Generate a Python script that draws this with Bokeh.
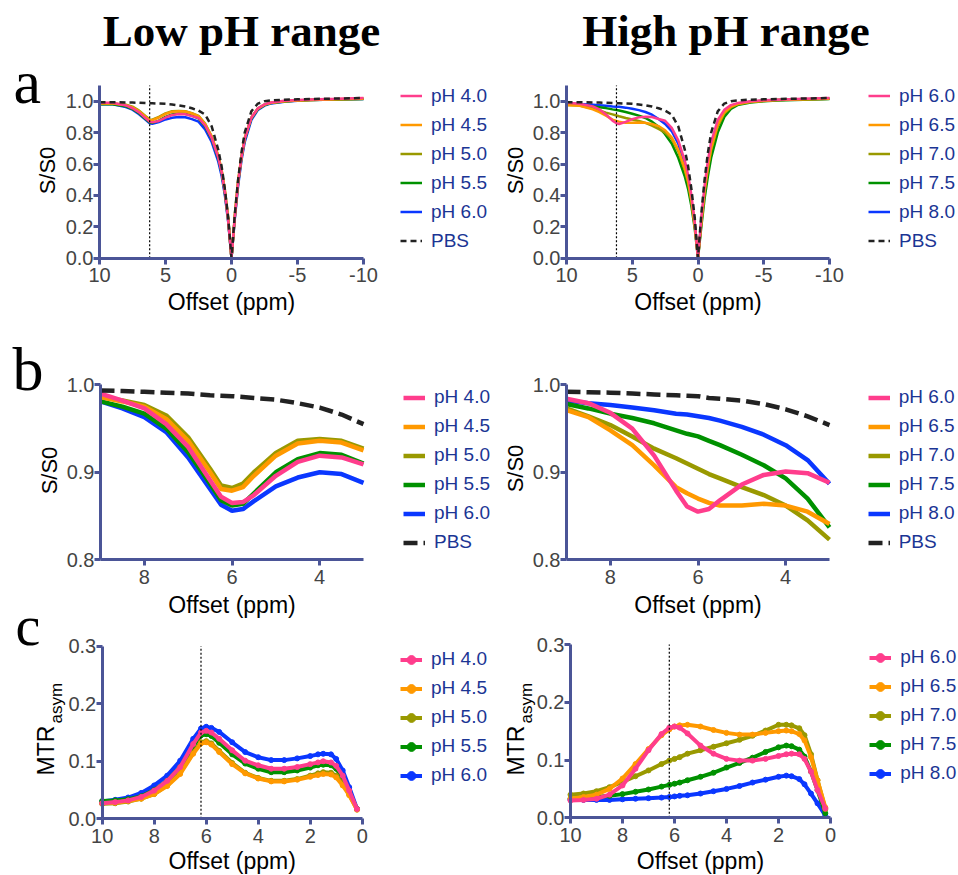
from math import pi
from bokeh.plotting import figure
from bokeh.models import (Range1d, FixedTicker, PrintfTickFormatter, Legend, LegendItem, Label)
from bokeh.layouts import column, row
from bokeh.embed import file_html
from bokeh.resources import INLINE

# ---------------- data ----------------
TITLES = ["Low pH range", "High pH range"]
PANEL_LETTERS = ["a", "b", "c"]
X_LABEL = "Offset (ppm)"
Y_LABEL_Z = "S/S0"
Y_LABEL_MTR = ("MTR", "asym")
LOW_LABELS = ["pH 4.0", "pH 4.5", "pH 5.0", "pH 5.5", "pH 6.0"]
HIGH_LABELS = ["pH 6.0", "pH 6.5", "pH 7.0", "pH 7.5", "pH 8.0"]
PBS_LABEL = "PBS"

A_TICKS_X = [10, 5, 0, -5, -10]
A_TICKS_Y = [0.0, 0.2, 0.4, 0.6, 0.8, 1.0]
B_TICKS_X = [8, 6, 4]
B_TICKS_Y = [0.8, 0.9, 1.0]
C_TICKS_X = [10, 8, 6, 4, 2, 0]
C_TICKS_Y = [0.0, 0.1, 0.2, 0.3]
A_X_SPAN, A_Y_SPAN = (-10, 10), (0.0, 1.1)
B_X_SPAN, B_Y_SPAN = (3, 9), (0.8, 1.0)
C_X_SPAN, C_Y_SPAN = (0, 10), (0.0, 0.3)
MARK_PPM = 6.2

# panel a : full Z-spectra
A_OFF = [10, 9, 8, 7.5, 7, 6.5, 6.2, 6, 5.5, 5, 4.5, 4, 3.5, 3, 2.5, 2, 1.5, 1, 0.75, 0.5, 0.25, 0,
         -0.25, -0.5, -0.75, -1, -1.5, -2, -2.5, -3, -4, -5, -6, -8, -10]
A_LOW_40 = [0.990, 0.990, 0.973, 0.955, 0.929, 0.891, 0.870, 0.865, 0.874, 0.896, 0.912, 0.919, 0.917, 0.905,
            0.893, 0.845, 0.765, 0.640, 0.550, 0.420, 0.240, 0.0,
            0.260, 0.480, 0.640, 0.760, 0.895, 0.955, 0.980, 0.992, 1.003, 1.008, 1.011, 1.015, 1.020]
A_LOW_45 = [0.986, 0.986, 0.975, 0.961, 0.936, 0.900, 0.879, 0.879, 0.896, 0.919, 0.933, 0.936, 0.934, 0.922,
            0.905, 0.855, 0.775, 0.650, 0.560, 0.430, 0.250, 0.0,
            0.270, 0.490, 0.645, 0.765, 0.895, 0.953, 0.978, 0.990, 1.000, 1.005, 1.008, 1.012, 1.015]
A_LOW_50 = [0.986, 0.986, 0.977, 0.965, 0.940, 0.904, 0.883, 0.882, 0.900, 0.922, 0.936, 0.938, 0.936, 0.924,
            0.907, 0.857, 0.777, 0.652, 0.562, 0.432, 0.252, 0.0,
            0.270, 0.490, 0.645, 0.765, 0.895, 0.953, 0.978, 0.990, 1.000, 1.005, 1.008, 1.012, 1.015]
A_LOW_55 = [0.981, 0.981, 0.967, 0.950, 0.923, 0.887, 0.866, 0.862, 0.876, 0.900, 0.915, 0.922, 0.920, 0.908,
            0.890, 0.840, 0.760, 0.635, 0.545, 0.415, 0.240, 0.0,
            0.260, 0.475, 0.635, 0.755, 0.890, 0.950, 0.975, 0.988, 0.998, 1.004, 1.007, 1.011, 1.014]
A_LOW_60 = [0.981, 0.981, 0.963, 0.946, 0.917, 0.881, 0.860, 0.856, 0.867, 0.884, 0.894, 0.900, 0.898, 0.886,
            0.870, 0.820, 0.740, 0.615, 0.525, 0.400, 0.230, 0.0,
            0.250, 0.460, 0.620, 0.740, 0.880, 0.945, 0.972, 0.986, 0.997, 1.003, 1.007, 1.011, 1.014]
A_PBS = [0.994, 0.9935, 0.992, 0.991, 0.990, 0.988, 0.987, 0.987, 0.985, 0.983, 0.979, 0.974, 0.966, 0.955,
         0.940, 0.915, 0.840, 0.690, 0.585, 0.440, 0.260, 0.0,
         0.280, 0.500, 0.670, 0.800, 0.935, 0.985, 1.000, 1.005, 1.010, 1.012, 1.014, 1.017, 1.020]

A_HIGH_60 = [0.990, 0.984, 0.967, 0.948, 0.916, 0.876, 0.859, 0.855, 0.868, 0.886, 0.897, 0.901, 0.899, 0.887,
             0.875, 0.830, 0.750, 0.620, 0.530, 0.400, 0.230, 0.0,
             0.250, 0.460, 0.620, 0.740, 0.880, 0.945, 0.975, 0.988, 1.000, 1.006, 1.010, 1.015, 1.020]
A_HIGH_65 = [0.975, 0.971, 0.948, 0.931, 0.908, 0.883, 0.875, 0.870, 0.862, 0.862, 0.864, 0.862, 0.855, 0.841,
             0.815, 0.770, 0.690, 0.570, 0.490, 0.370, 0.210, 0.0,
             0.230, 0.430, 0.580, 0.700, 0.850, 0.930, 0.965, 0.982, 0.996, 1.003, 1.008, 1.012, 1.016]
A_HIGH_70 = [0.975, 0.973, 0.954, 0.941, 0.927, 0.916, 0.909, 0.904, 0.893, 0.883, 0.874, 0.862, 0.845, 0.823,
             0.800, 0.760, 0.680, 0.560, 0.480, 0.360, 0.210, 0.0,
             0.220, 0.420, 0.570, 0.690, 0.840, 0.922, 0.960, 0.980, 0.995, 1.002, 1.007, 1.011, 1.015]
A_HIGH_75 = [0.980, 0.978, 0.967, 0.962, 0.956, 0.948, 0.944, 0.941, 0.931, 0.920, 0.908, 0.893, 0.870, 0.837,
             0.790, 0.730, 0.640, 0.520, 0.440, 0.330, 0.190, 0.0,
             0.200, 0.380, 0.520, 0.640, 0.800, 0.900, 0.950, 0.975, 0.992, 1.000, 1.005, 1.010, 1.014]
A_HIGH_80 = [0.985, 0.982, 0.977, 0.974, 0.971, 0.967, 0.965, 0.964, 0.959, 0.952, 0.943, 0.931, 0.914, 0.887,
             0.855, 0.810, 0.730, 0.590, 0.500, 0.370, 0.210, 0.0,
             0.230, 0.430, 0.580, 0.700, 0.850, 0.930, 0.965, 0.982, 0.996, 1.003, 1.008, 1.012, 1.016]

# panel b : zoom 9 -> 3 ppm
B_OFF = [9, 8.5, 8, 7.5, 7, 6.5, 6.25, 6, 5.75, 5.5, 5, 4.5, 4, 3.5, 3]
B_LOW_40 = [0.990, 0.982, 0.973, 0.955, 0.929, 0.891, 0.872, 0.865, 0.866, 0.874, 0.896, 0.912, 0.919, 0.917, 0.909]
B_LOW_45 = [0.986, 0.981, 0.975, 0.961, 0.936, 0.900, 0.881, 0.879, 0.883, 0.896, 0.919, 0.933, 0.936, 0.934, 0.925]
B_LOW_50 = [0.986, 0.982, 0.977, 0.965, 0.940, 0.904, 0.885, 0.882, 0.887, 0.900, 0.922, 0.936, 0.938, 0.936, 0.927]
B_LOW_55 = [0.981, 0.975, 0.967, 0.950, 0.923, 0.887, 0.868, 0.862, 0.864, 0.876, 0.900, 0.915, 0.922, 0.920, 0.910]
B_LOW_60 = [0.981, 0.973, 0.963, 0.946, 0.917, 0.881, 0.863, 0.856, 0.858, 0.867, 0.884, 0.894, 0.900, 0.898, 0.888]
B_LOW_PBS = [0.9935, 0.993, 0.992, 0.991, 0.990, 0.988, 0.9875, 0.987, 0.986, 0.985, 0.983, 0.979, 0.974, 0.966, 0.955]

B_HIGH_60 = [0.984, 0.979, 0.968, 0.950, 0.919, 0.879, 0.861, 0.855, 0.858, 0.868, 0.886, 0.897, 0.901, 0.899, 0.888]
B_HIGH_65 = [0.971, 0.963, 0.948, 0.931, 0.908, 0.883, 0.876, 0.870, 0.865, 0.862, 0.862, 0.864, 0.862, 0.855, 0.841]
B_HIGH_70 = [0.973, 0.964, 0.954, 0.941, 0.927, 0.916, 0.910, 0.904, 0.898, 0.893, 0.883, 0.874, 0.862, 0.845, 0.823]
B_HIGH_75 = [0.978, 0.973, 0.967, 0.962, 0.956, 0.948, 0.944, 0.941, 0.936, 0.931, 0.920, 0.908, 0.893, 0.870, 0.837]
B_HIGH_80 = [0.982, 0.979, 0.977, 0.974, 0.971, 0.967, 0.966, 0.964, 0.962, 0.959, 0.952, 0.943, 0.931, 0.914, 0.887]
B_HIGH_PBS = [0.992, 0.9915, 0.991, 0.990, 0.989, 0.988, 0.9875, 0.987, 0.985, 0.984, 0.982, 0.978, 0.972, 0.964, 0.954]

# panel c : MTRasym
C_OFF = [10, 9.5, 9, 8.5, 8, 7.5, 7, 6.5, 6.2, 6, 5.8, 5.5, 5, 4.5, 4, 3.5, 3, 2.5, 2, 1.7, 1.5, 1.2, 1,
         0.75, 0.5, 0.2]
C_LOW_40 = [0.027, 0.029, 0.032, 0.038, 0.049, 0.066, 0.090, 0.130, 0.150, 0.153, 0.150, 0.139, 0.119, 0.101,
            0.093, 0.087, 0.087, 0.090, 0.095, 0.098, 0.100, 0.098, 0.092, 0.075, 0.049, 0.017]
C_LOW_45 = [0.027, 0.028, 0.031, 0.035, 0.043, 0.057, 0.078, 0.113, 0.131, 0.133, 0.129, 0.116, 0.095, 0.079,
            0.070, 0.065, 0.065, 0.068, 0.073, 0.076, 0.078, 0.077, 0.072, 0.058, 0.041, 0.016]
C_LOW_50 = [0.026, 0.027, 0.030, 0.035, 0.043, 0.058, 0.080, 0.115, 0.133, 0.135, 0.131, 0.118, 0.097, 0.080,
            0.071, 0.066, 0.066, 0.069, 0.075, 0.079, 0.081, 0.080, 0.075, 0.061, 0.043, 0.016]
C_LOW_55 = [0.031, 0.032, 0.034, 0.039, 0.050, 0.066, 0.090, 0.126, 0.145, 0.147, 0.144, 0.132, 0.112, 0.096,
            0.087, 0.081, 0.081, 0.084, 0.089, 0.093, 0.094, 0.093, 0.087, 0.071, 0.046, 0.017]
C_LOW_60 = [0.030, 0.033, 0.037, 0.045, 0.058, 0.075, 0.101, 0.139, 0.157, 0.160, 0.158, 0.151, 0.133, 0.116,
            0.107, 0.102, 0.102, 0.105, 0.109, 0.112, 0.113, 0.112, 0.104, 0.084, 0.055, 0.017]

C_HIGH_60 = [0.030, 0.031, 0.033, 0.040, 0.056, 0.085, 0.117, 0.145, 0.156, 0.158, 0.156, 0.146, 0.125, 0.111,
             0.102, 0.099, 0.099, 0.102, 0.107, 0.110, 0.111, 0.110, 0.102, 0.080, 0.048, 0.016]
C_HIGH_65 = [0.033, 0.036, 0.040, 0.050, 0.068, 0.093, 0.119, 0.143, 0.153, 0.158, 0.160, 0.161, 0.158, 0.152,
             0.147, 0.144, 0.144, 0.147, 0.150, 0.151, 0.150, 0.145, 0.134, 0.105, 0.065, 0.018]
C_HIGH_70 = [0.040, 0.042, 0.046, 0.053, 0.062, 0.072, 0.082, 0.093, 0.099, 0.102, 0.105, 0.111, 0.117, 0.123,
             0.129, 0.135, 0.142, 0.151, 0.161, 0.161, 0.160, 0.155, 0.143, 0.110, 0.065, 0.015]
C_HIGH_75 = [0.033, 0.034, 0.036, 0.038, 0.041, 0.045, 0.049, 0.054, 0.057, 0.059, 0.061, 0.065, 0.071, 0.078,
             0.087, 0.095, 0.104, 0.114, 0.122, 0.125, 0.124, 0.118, 0.106, 0.080, 0.048, 0.008]
C_HIGH_80 = [0.031, 0.031, 0.031, 0.031, 0.032, 0.033, 0.034, 0.035, 0.036, 0.037, 0.038, 0.039, 0.042, 0.046,
             0.050, 0.055, 0.061, 0.066, 0.071, 0.073, 0.072, 0.067, 0.058, 0.042, 0.025, 0.004]

# ---------------- style ----------------
COLORS = ["#ff3d8c", "#ff9900", "#999900", "#009100", "#0a37ff"]
PBS_COLOR = "#222222"
AXIS_COLOR = "#4b5597"
TICK_TEXT = "#444444"
LEG_TEXT = "#1b3594"
SANS = "Liberation Sans"
SERIF = "Liberation Serif"


def make_panel(W, H, xcal, ycal, xspan, yspan, xleft, xticks, yticks):
    """Figure whose frame fills the whole canvas; the axes are pinned inside it.
    xcal = (px0, v0, px1, v1) horizontal pixel calibration, ycal = (py0, v0, py1, v1)
    vertical calibration measured from the top of the canvas."""
    px0, xv0, px1, xv1 = xcal
    kx = (xv1 - xv0) / (px1 - px0)
    x_start, x_end = xv0 - px0 * kx, xv0 + (W - px0) * kx
    py0, yv0, py1, yv1 = ycal
    ky = (yv1 - yv0) / (py1 - py0)
    y_start, y_end = yv0 + (H - py0) * ky, yv0 - py0 * ky
    p = figure(width=W, height=H, x_range=Range1d(x_start, x_end), y_range=Range1d(y_start, y_end),
               title=None, output_backend="svg", toolbar_location=None,
               min_border=0, min_border_left=0, min_border_right=0, min_border_top=0,
               min_border_bottom=0)
    p.outline_line_color = None
    p.grid.visible = False
    for ax in (p.xaxis[0], p.yaxis[0]):
        ax.axis_line_color = AXIS_COLOR
        ax.axis_line_width = 3
        ax.major_tick_line_color = AXIS_COLOR
        ax.major_tick_line_width = 3
        ax.major_tick_out = 6
        ax.major_tick_in = 0
        ax.minor_tick_line_color = None
        ax.major_label_text_font = SANS
        ax.major_label_text_font_size = "20px"
        ax.major_label_text_color = TICK_TEXT
    p.xaxis.ticker = FixedTicker(ticks=xticks)
    p.yaxis.ticker = FixedTicker(ticks=yticks)
    p.xaxis.formatter = PrintfTickFormatter(format="%d")
    p.yaxis.formatter = PrintfTickFormatter(format="%.1f")
    p.xaxis.major_label_standoff = 4
    p.yaxis.major_label_standoff = 0
    p.xaxis.fixed_location = yspan[0]
    p.xaxis.bounds = xspan
    p.yaxis.fixed_location = xleft
    p.yaxis.bounds = yspan
    return p


def put_label(p, text, sx, sy, size, font=SANS, style="normal", align="left", angle=0.0,
              color="black"):
    # (sx, sy): middle of the text box, in pixels from the canvas' bottom-left corner
    p.add_layout(Label(x=sx, y=sy, x_units="screen", y_units="screen", text=text,
                       text_font=font, text_font_size=size, text_font_style=style,
                       text_align=align, text_baseline="middle", angle=angle,
                       text_color=color))


def add_legend(p, items, sx, sy):
    lg = Legend(items=items, location=(sx, sy), orientation="vertical",
                label_text_font=SANS, label_text_font_size="19px", label_text_color=LEG_TEXT,
                glyph_width=22, glyph_height=29, label_height=29, label_standoff=9,
                spacing=0, padding=0, margin=0, border_line_color=None,
                background_fill_alpha=0)
    p.add_layout(lg, "center")


def z_panel(p, off, series, pbs, labels, lw, dash):
    rends = {}
    for i in reversed(range(len(series))):
        rends[i] = p.line(off, series[i], line_color=COLORS[i], line_width=lw)
    r_pbs = p.line(off, pbs, line_color=PBS_COLOR, line_width=lw, line_dash=dash)
    items = [LegendItem(label=labels[i], renderers=[rends[i]]) for i in range(len(series))]
    items.append(LegendItem(label=PBS_LABEL, renderers=[r_pbs]))
    return items


def mtr_panel(p, off, series, labels):
    rends = {}
    for i in reversed(range(len(series))):
        l = p.line(off, series[i], line_color=COLORS[i], line_width=4)
        s = p.scatter(off, series[i], marker="circle", size=5, fill_color=COLORS[i],
                      line_color=COLORS[i])
        rends[i] = [l, s]
    return [LegendItem(label=labels[i], renderers=rends[i]) for i in range(len(series))]


def mark_line(p, yspan):
    p.segment(x0=[MARK_PPM], y0=[yspan[0]], x1=[MARK_PPM], y1=[yspan[1]],
              line_color="black", line_width=1.2, line_dash="2 2")


# canvas geometry: left column 494 px wide, right column 464 px; rows 316 / 274 / 284 px
LW, RW = 494, 464
HA, HB, HC = 316, 274, 284

# ---- row a ----
a1 = make_panel(LW, HA, (99, 10, 363, -10), (257.7, 0.0, 100.7, 1.0), A_X_SPAN, A_Y_SPAN, 10,
                A_TICKS_X, A_TICKS_Y)
items = z_panel(a1, A_OFF, [A_LOW_40, A_LOW_45, A_LOW_50, A_LOW_55, A_LOW_60], A_PBS,
                LOW_LABELS, 2.5, "6 4")
mark_line(a1, A_Y_SPAN)
add_legend(a1, items, 400, 60.6)
put_label(a1, TITLES[0], 241, 285.5, "45px", SERIF, "bold", "center")
put_label(a1, PANEL_LETTERS[0], 13, 235, "62px", SERIF)
put_label(a1, Y_LABEL_Z, 47, 146, "22px", align="center", angle=pi / 2)
put_label(a1, X_LABEL, 231, 15, "23px", align="center")

a2 = make_panel(RW, HA, (72, 10, 335, -10), (257.7, 0.0, 100.7, 1.0), A_X_SPAN, A_Y_SPAN, 10,
                A_TICKS_X, A_TICKS_Y)
items = z_panel(a2, A_OFF, [A_HIGH_60, A_HIGH_65, A_HIGH_70, A_HIGH_75, A_HIGH_80], A_PBS,
                HIGH_LABELS, 2.5, "6 4")
mark_line(a2, A_Y_SPAN)
add_legend(a2, items, 374, 60.6)
put_label(a2, TITLES[1], 231.5, 285.5, "45px", SERIF, "bold", "center")
put_label(a2, Y_LABEL_Z, 21, 146, "22px", align="center", angle=pi / 2)
put_label(a2, X_LABEL, 203.5, 15, "23px", align="center")

# ---- row b (page y 316..590) ----
b1 = make_panel(LW, HB, (100, 9, 363, 3), (68.3, 1.0, 243.3, 0.8), B_X_SPAN, B_Y_SPAN, 9,
                B_TICKS_X, B_TICKS_Y)
items = z_panel(b1, B_OFF, [B_LOW_40, B_LOW_45, B_LOW_50, B_LOW_55, B_LOW_60], B_LOW_PBS,
                LOW_LABELS, 4.5, "14 6")
add_legend(b1, items, 403, 33.3)
put_label(b1, PANEL_LETTERS[1], 12, 221.7, "62px", SERIF)
put_label(b1, Y_LABEL_Z, 49, 120, "22px", align="center", angle=pi / 2)

b2 = make_panel(RW, HB, (72, 9, 335, 3), (68.3, 1.0, 243.3, 0.8), B_X_SPAN, B_Y_SPAN, 9,
                B_TICKS_X, B_TICKS_Y)
items = z_panel(b2, B_OFF, [B_HIGH_60, B_HIGH_65, B_HIGH_70, B_HIGH_75, B_HIGH_80], B_HIGH_PBS,
                HIGH_LABELS, 4.5, "14 6")
add_legend(b2, items, 373.7, 33.3)
put_label(b2, Y_LABEL_Z, 21, 122, "22px", align="center", angle=pi / 2)

# ---- row c (page y 590..874); also carries the x-axis title of row b ----
c1 = make_panel(LW, HC, (101.7, 10, 361.7, 0), (55.7, 0.3, 228.3, 0.0), C_X_SPAN, C_Y_SPAN, 10,
                C_TICKS_X, C_TICKS_Y)
items = mtr_panel(c1, C_OFF, [C_LOW_40, C_LOW_45, C_LOW_50, C_LOW_55, C_LOW_60], LOW_LABELS)
mark_line(c1, C_Y_SPAN)
add_legend(c1, items, 400, 84.2)
put_label(c1, X_LABEL, 231.5, 270, "23px", align="center")
put_label(c1, PANEL_LETTERS[2], 15, 248.6, "56px", SERIF)
put_label(c1, Y_LABEL_MTR[0], 45, 99, "23px", angle=pi / 2)
put_label(c1, Y_LABEL_MTR[1], 56, 151, "17px", angle=pi / 2)
put_label(c1, X_LABEL, 231.7, 13.3, "23px", align="center")

c2 = make_panel(RW, HC, (76, 10, 336, 0), (54, 0.3, 227.3, 0.0), C_X_SPAN, C_Y_SPAN, 10,
                C_TICKS_X, C_TICKS_Y)
items = mtr_panel(c2, C_OFF, [C_HIGH_60, C_HIGH_65, C_HIGH_70, C_HIGH_75, C_HIGH_80], HIGH_LABELS)
mark_line(c2, C_Y_SPAN)
add_legend(c2, items, 375.3, 86.2)
put_label(c2, X_LABEL, 203.5, 270, "23px", align="center")
put_label(c2, Y_LABEL_MTR[0], 21, 99, "23px", angle=pi / 2)
put_label(c2, Y_LABEL_MTR[1], 32, 151, "17px", angle=pi / 2)
put_label(c2, X_LABEL, 206, 13.3, "23px", align="center")

layout = column(row(a1, a2), row(b1, b2), row(c1, c2))
open("out.html", "w").write(file_html(layout, INLINE))
